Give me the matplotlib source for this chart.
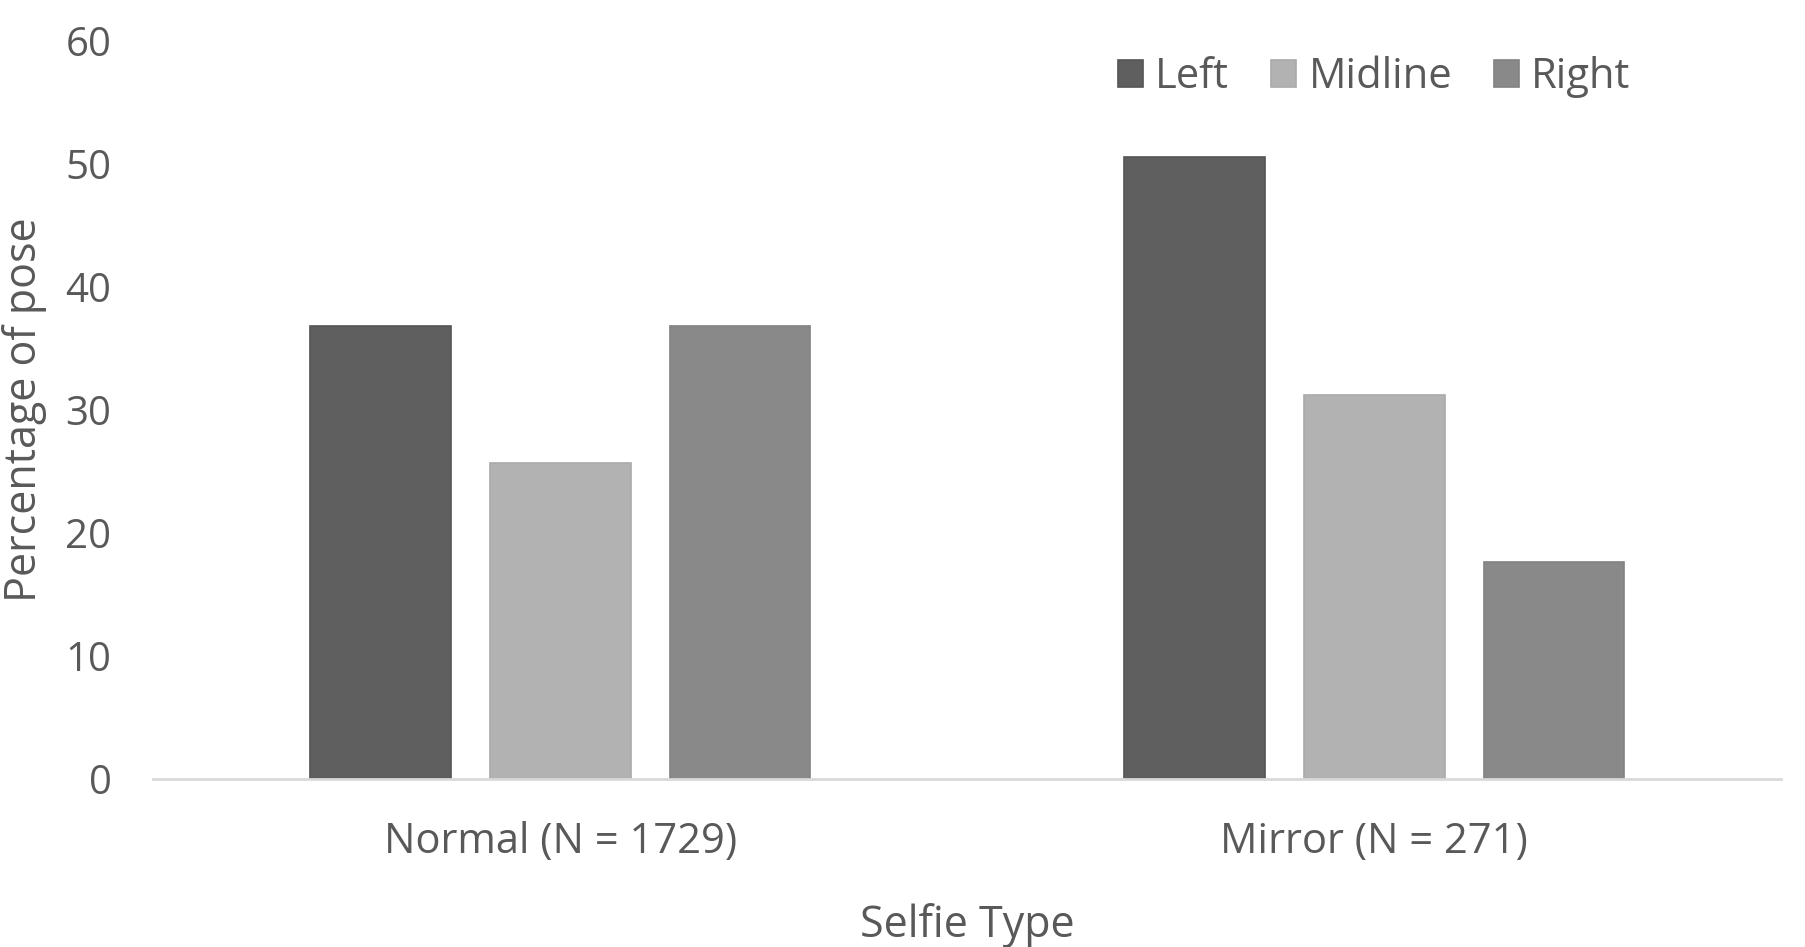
import matplotlib.pyplot as plt
import numpy as np

# valores
tipos = ["Normal (N = 1729)", "Mirror (N = 271)"]
poses = ["Left", "Midline", "Right"]
esquerda = [36.8, 50.5]
meio = [25.7, 31.2]
direita = [36.8, 17.6]

cores = ["#5f5f5f", "#b2b2b2", "#898989"]
bordas = ["#555555", "#aaaaaa", "#828282"]
cor_texto = "#595959"

plt.rcParams['font.family'] = ['Open Sans', 'DejaVu Sans']

fig = plt.figure(figsize=(18.05, 9.47), dpi=100)
ax = fig.add_axes([0.0848, 0.1774, 0.902, 0.78])

x = np.arange(len(tipos))
largura = 0.173
desvio = 0.221
series = [esquerda, meio, direita]
for i, (valores, nome) in enumerate(zip(series, poses)):
    ax.bar(x + (i - 1) * desvio, valores, largura, color=cores[i],
           edgecolor=bordas[i], linewidth=1.2, label=nome, zorder=2)

ax.set_xlim(-0.5, 1.5)
ax.set_ylim(0, 60)
ax.set_yticks(range(0, 61, 10))
ax.set_xticks(x)
ax.set_xticklabels(tipos)

for lado in ["top", "right", "left"]:
    ax.spines[lado].set_visible(False)
ax.spines["bottom"].set_color("#d9d9d9")
ax.spines["bottom"].set_linewidth(2)
ax.tick_params(axis="both", length=0, colors=cor_texto)
ax.tick_params(axis="y", pad=30, labelsize=29)
ax.tick_params(axis="x", pad=30, labelsize=30)

ax.set_ylabel("Percentage of pose", fontsize=31, color=cor_texto)
ax.yaxis.set_label_coords(-0.065, 0.5)
ax.set_xlabel("Selfie Type", fontsize=31, color=cor_texto)
ax.xaxis.set_label_coords(0.5, -0.168)

leg = ax.legend(loc="center", bbox_to_anchor=(0.75, 0.95), ncol=3, frameon=False,
                fontsize=30, handlelength=0.6, handleheight=0.6, handletextpad=0.3,
                columnspacing=1.0)
for t in leg.get_texts():
    t.set_color(cor_texto)

fig.savefig("out.png", dpi=100)
